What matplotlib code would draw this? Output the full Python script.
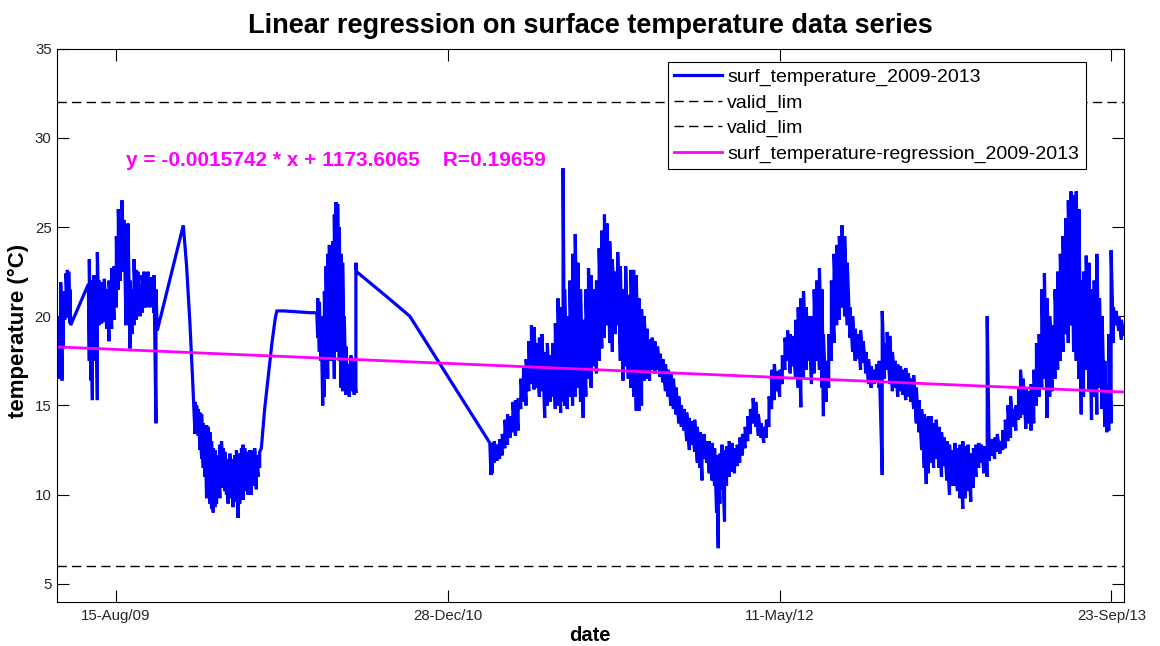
import numpy as np
import matplotlib
matplotlib.use("Agg")
import matplotlib.pyplot as plt
import matplotlib.dates as mdates

plt.rcParams["font.family"] = ["Liberation Sans", "DejaVu Sans"]

# surface temperature, per-sample min/max (degC); days counted from 2009-05-15
START = np.datetime64("2009-05-15")
day = [
    2.5, 4.6, 6.7, 8.7, 10.7, 12.7, 14.7, 16.7, 18.7, 20.7, 22.7, 23.7,
    50.3, 51.8, 54.3, 56.4, 58.9, 61.4, 63.9, 66.4, 70.4, 74.4, 77.9, 81.5,
    85.5, 89.0, 92.5, 95.5, 98.5, 101.0, 104.0, 107.1, 110.1, 113.1, 116.1,
    119.1, 122.1, 125.1, 128.1, 131.2, 134.2, 137.2, 140.2, 143.2, 146.2,
    149.2, 152.2, 154.2,
    193.4, 198.4, 203.4, 207.4,
    211.0, 213.5, 216.0, 218.5, 221.0, 223.5, 226.0, 228.5, 231.0, 233.5,
    236.0, 238.5, 241.0, 243.5, 246.0, 248.5, 251.0, 253.5, 256.0, 258.5,
    261.0, 263.5, 266.0, 268.5, 271.0, 273.5, 276.0, 278.5, 281.0, 283.5,
    286.0, 288.5, 291.0, 293.5, 296.0, 298.5, 301.0, 303.5, 306.0, 308.5,
    311.0, 316.0, 322.0, 327.0, 332.0, 334.5, 345.0, 365.0, 385.0, 394.5,
    396.0, 398.5, 401.0, 403.5, 406.0, 408.5, 411.0, 413.5, 416.0, 418.5,
    421.0, 423.5, 426.0, 428.5, 431.0, 433.5, 436.0, 438.5, 441.0, 443.5,
    446.0, 448.5, 451.0, 453.5,
    454.5, 500.0, 534.8, 655.3,
    657, 659, 662, 666, 670, 674, 678, 682, 686, 690, 694, 698, 702, 706,
    710, 714, 718, 722, 726, 730, 734, 738, 742, 746, 750, 754, 758, 762,
    765.7, 768, 772, 776, 780, 784, 788, 792, 796, 800, 804, 808, 812, 816,
    820, 824, 828, 832, 836, 840, 844, 848, 852, 856, 860, 864, 868, 872,
    876, 880, 884, 888, 892, 896, 900, 904, 908, 912, 916, 920, 924, 928,
    932, 936, 940, 944, 948, 952, 956, 960, 964, 968, 972, 975, 978, 982,
    986, 990, 994, 997, 999.5, 1002, 1005, 1009, 1012, 1016, 1020, 1024,
    1028, 1032, 1036, 1040, 1044, 1048, 1052, 1056, 1060, 1064, 1068, 1072,
    1076, 1080, 1084, 1088, 1092, 1096, 1100, 1104, 1108, 1112, 1116, 1120,
    1124, 1128, 1132, 1136, 1140, 1144, 1148, 1152, 1156, 1158, 1162, 1166,
    1170, 1174, 1178, 1182, 1186, 1190, 1194, 1198, 1202, 1206, 1210, 1214,
    1218, 1222, 1226, 1230, 1234, 1238, 1242, 1246.6, 1250, 1254, 1258, 1262,
    1266, 1270, 1274, 1278, 1282, 1286, 1290, 1294, 1298, 1302, 1306, 1310,
    1313, 1316, 1320, 1324, 1328, 1332, 1336, 1340, 1344, 1348, 1352, 1356,
    1360, 1364, 1368, 1372, 1376, 1380, 1384, 1388, 1392, 1396, 1400, 1404.8,
    1408, 1412, 1416, 1420, 1424, 1428, 1432, 1436, 1440, 1444, 1448, 1452,
    1455, 1459, 1463, 1467, 1471, 1475, 1479, 1483, 1487, 1491, 1495, 1499,
    1503, 1507, 1511, 1515, 1519, 1523, 1527, 1531, 1535, 1539, 1543, 1546.5,
    1550, 1554, 1558, 1562, 1566, 1570, 1574, 1578, 1582, 1585, 1588, 1591.5,
    1595, 1599, 1603, 1607, 1611,
]
t_lo = [
    17.4, 17.0, 16.5, 17.2, 16.4, 18.2, 19.8, 19.9, 20.5, 20.0, 19.6, 19.5,
    21.8, 17.5, 16.4, 15.3, 17.5, 19.0, 15.3, 19.5, 19.6, 19.7, 19.3, 18.6,
    19.3, 19.8, 20.5, 21.5, 22.0, 23.0, 22.5, 19.5, 19.8, 18.2, 19.0,
    19.5, 19.8, 20.2, 20.0, 20.2, 20.5, 20.5, 20.8, 20.5, 21.0,
    20.2, 14.0, 19.2,
    25.1, 22.8, 19.6, 16.5,
    13.4, 13.5, 13.3, 12.5, 12.0, 11.5, 11.0, 9.8, 10.5, 9.5,
    9.2, 9.0, 9.3, 9.5, 10.0, 9.8, 10.4, 10.6, 10.2, 10.0,
    9.5, 10.1, 9.8, 9.3, 9.6, 9.6, 8.7, 9.5, 10.0, 9.7,
    10.2, 10.5, 10.0, 10.8, 10.0, 10.5, 10.8, 10.3, 11.0, 11.5,
    12.6, 14.8, 16.8, 18.5, 19.9, 20.3, 20.3, 20.25, 20.2, 20.2,
    18.8, 18.0, 17.5, 15.0, 15.5, 17.0, 16.5, 18.0, 17.5, 18.0,
    16.5, 18.5, 18.0, 17.5, 16.0, 15.8, 16.5, 15.6, 15.7, 15.5,
    16.2, 15.8, 15.6, 15.7,
    22.5, 21.1, 20.0, 12.9,
    11.1, 11.2, 11.8, 11.9, 12.0, 12.2, 12.6, 12.8, 13.2, 13.5, 13.3, 13.6, 14.8, 15.2,
    15.0, 15.8, 16.2, 15.9, 16.0, 15.5, 15.8, 14.3, 15.0, 15.2, 15.5, 14.8, 15.0, 14.6,
    15.2, 15.0, 14.8, 15.5, 15.0, 15.5, 16.0, 15.2, 14.3, 15.5, 16.5, 16.0, 17.2, 16.8,
    17.5, 18.2, 18.8, 19.5, 18.5, 18.0, 19.0, 19.5, 17.5, 16.4, 17.2, 16.5, 16.0, 15.5,
    14.7, 14.7, 15.0, 16.4, 16.5, 16.4, 17.0, 16.8, 17.0, 16.6, 16.3, 15.8, 15.5, 15.0,
    14.8, 14.5, 14.0, 13.8, 13.6, 13.0, 12.5, 12.8, 12.4, 11.8, 11.5, 10.8, 12.0, 11.8,
    11.2, 10.8, 10.5, 9.0, 7.0, 9.5, 10.3, 8.5, 10.5, 11.0, 11.3, 11.2,
    11.6, 11.8, 12.2, 12.6, 13.0, 13.4, 14.0, 13.8, 13.3, 13.2, 12.9, 13.2,
    13.8, 14.8, 15.3, 15.8, 15.5, 16.2, 17.0, 17.5, 16.8, 17.2, 16.5, 16.0,
    14.9, 16.5, 17.0, 17.5, 16.2, 16.8, 17.5, 17.0, 16.0, 14.4, 15.2, 16.0,
    17.5, 18.5, 19.5, 19.8, 20.5, 20.0, 19.5, 18.8, 18.0, 17.5, 17.6, 17.0,
    17.4, 16.8, 16.2, 16.0, 16.2, 16.3, 16.0, 11.1, 16.5, 17.0, 16.2, 15.8,
    16.0, 15.5, 15.8, 15.6, 15.3, 15.5, 15.2, 14.8, 14.0, 13.5, 12.5, 11.5,
    10.6, 11.2, 11.8, 11.5, 12.0, 11.5, 11.0, 11.6, 10.8, 10.0, 10.5, 10.5,
    10.2, 9.8, 9.2, 9.8, 10.2, 9.6, 10.4, 11.0, 11.5, 11.8, 11.2, 11.0,
    11.9, 12.2, 12.0, 12.4, 12.3, 12.5, 12.6, 13.0, 13.2, 13.8, 13.6, 14.2,
    14.3, 14.5, 13.7, 14.0, 13.6, 14.0, 15.0, 15.5, 16.0, 16.5, 14.3, 15.5,
    15.8, 16.5, 17.0, 17.5, 18.0, 19.0, 18.5, 19.5, 18.0, 17.5, 16.5, 14.5,
    15.5, 17.0, 15.8, 14.2, 15.5, 14.5, 16.0, 14.8, 13.8, 13.5, 13.6, 14.0,
    18.5, 19.5, 19.2, 18.7, 18.9,
]
t_hi = [
    18.4, 19.9, 20.0, 21.9, 20.5, 21.4, 21.2, 22.4, 22.6, 22.5, 21.5, 19.5,
    21.8, 23.2, 22.0, 21.0, 22.3, 21.7, 23.6, 22.0, 21.9, 22.1, 21.5, 22.0,
    22.7, 22.8, 24.5, 26.0, 25.5, 26.5, 25.4, 24.3, 25.2, 22.0, 21.5,
    23.2, 22.6, 22.5, 21.8, 22.3, 22.5, 22.2, 22.5, 22.1, 22.2,
    22.3, 21.5, 19.2,
    25.1, 22.8, 19.6, 16.5,
    15.2, 15.0, 14.8, 14.6, 14.5, 14.0, 13.8, 13.9, 13.8, 13.5,
    13.0, 12.6, 12.5, 12.2, 12.0, 12.8, 13.0, 12.6, 12.4, 12.0,
    11.8, 12.3, 12.0, 11.6, 12.2, 12.5, 12.3, 12.1, 12.6, 12.8,
    12.6, 12.4, 12.0, 12.5, 12.5, 12.4, 12.6, 12.0, 12.2, 12.4,
    12.6, 14.8, 16.8, 18.5, 19.9, 20.3, 20.3, 20.25, 20.2, 20.2,
    21.0, 20.8, 20.0, 18.5, 21.4, 22.8, 23.5, 24.0, 23.8, 24.2,
    25.7, 26.4, 26.3, 25.0, 23.5, 23.0, 20.0, 18.3, 17.0, 17.3,
    17.8, 17.5, 16.8, 23.0,
    22.5, 21.1, 20.0, 12.9,
    12.8, 12.9, 13.0, 12.8, 13.1, 13.4, 14.2, 14.5, 14.4, 15.2, 15.3, 15.4, 16.5, 17.2,
    17.6, 18.6, 19.5, 19.4, 18.5, 18.8, 19.0, 18.0, 18.5, 17.8, 18.5, 19.6, 21.0, 20.5,
    28.3, 21.5, 20.0, 22.0, 23.5, 24.6, 23.0, 21.5, 19.8, 21.5, 22.7, 22.3, 21.5, 22.0,
    23.8, 24.8, 25.7, 25.2, 24.2, 23.2, 22.5, 23.6, 22.8, 21.5, 22.8, 21.2, 22.6, 22.6,
    22.3, 21.0, 20.4, 20.0, 19.3, 18.7, 18.8, 18.6, 18.3, 17.9, 17.6, 17.3, 17.0, 16.8,
    16.5, 16.0, 15.5, 15.0, 14.8, 14.6, 14.3, 14.1, 14.2, 13.8, 13.5, 13.2, 13.4, 13.0,
    13.0, 12.9, 12.6, 12.2, 12.0, 12.3, 12.8, 12.5, 12.7, 13.0, 12.9, 12.6,
    12.8, 13.2, 13.4, 13.8, 14.4, 14.8, 15.4, 15.2, 14.5, 14.0, 13.8, 14.2,
    15.5, 17.0, 17.3, 16.9, 17.0, 17.8, 18.8, 19.2, 19.0, 18.9, 19.8, 20.5,
    21.0, 21.4, 20.5, 20.0, 20.0, 21.5, 22.0, 22.7, 21.5, 19.0, 17.5, 19.0,
    22.0, 23.5, 24.0, 24.5, 25.1, 24.5, 23.0, 20.5, 20.0, 19.3, 19.0, 19.2,
    18.6, 18.0, 17.6, 17.2, 17.0, 17.3, 17.5, 20.3, 18.5, 19.1, 18.9, 18.0,
    17.5, 17.3, 17.2, 17.0, 17.1, 16.8, 16.5, 16.7, 16.0, 15.3, 14.8, 14.5,
    14.3, 14.4, 14.4, 14.0, 14.2, 13.8, 13.5, 13.2, 13.0, 12.8, 12.5, 12.9,
    12.6, 12.8, 13.0, 12.7, 12.8, 12.3, 12.6, 12.8, 12.9, 12.8, 12.7, 20.0,
    13.0, 13.1, 13.2, 13.4, 13.0, 13.6, 14.2, 15.0, 15.5, 14.8, 15.0, 16.0,
    17.0, 16.5, 16.0, 15.8, 16.2, 17.0, 18.5, 19.0, 21.5, 22.4, 21.0, 20.0,
    19.5, 21.5, 22.5, 23.5, 24.5, 25.5, 26.5, 27.0, 26.8, 27.0, 26.0, 22.0,
    22.5, 23.4, 23.0, 21.5, 22.0, 23.5, 21.0, 20.0, 17.5, 16.0, 19.0, 23.7,
    20.5, 20.3, 20.0, 19.8, 19.3,
]

# regression fit (x in MATLAB datenum) and validity limits
SLOPE = -0.0015742
INTERCEPT = 1173.6065
R_VALUE = 0.19659
VALID_MIN = 6
VALID_MAX = 32
MATLAB_EPOCH = 719529  # datenum of 1970-01-01

tick_dates = ["2009-08-15", "2010-12-28", "2012-05-11", "2013-09-23"]
tick_labels = ["15-Aug/09", "28-Dec/10", "11-May/12", "23-Sep/13"]
y_ticks = [5, 10, 15, 20, 25, 30, 35]

# each sample is drawn as a min -> max stroke, giving the dense band look
x_env = mdates.date2num(START) + np.asarray(day, dtype=float)
xs = np.repeat(x_env, 2)
ys = np.column_stack([t_lo, t_hi]).ravel()

x_ends = np.array([x_env[0], x_env[-1]])
reg_y = SLOPE * (x_ends + MATLAB_EPOCH) + INTERCEPT

fig = plt.figure(figsize=(11.6, 6.46), dpi=100)
ax = fig.add_axes([0.0488, 0.0686, 0.9202, 0.856])

ax.plot(xs, ys, color="#0000FF", linewidth=2.3, solid_joinstyle="miter",
        label="surf_temperature_2009-2013")
ax.plot(x_ends, [VALID_MAX, VALID_MAX], color="black", linewidth=1.0,
        dashes=(6.7, 3.8), label="valid_lim")
ax.plot(x_ends, [VALID_MIN, VALID_MIN], color="black", linewidth=1.0,
        dashes=(6.7, 3.8), label="valid_lim")
ax.plot(x_ends, reg_y, color="#FF00FF", linewidth=2.0,
        label="surf_temperature-regression_2009-2013")

ax.text(mdates.date2num(START) + 107, 28.4,
        f"y = {SLOPE:.7f} * x + {INTERCEPT:.4f}    R={R_VALUE:.5f}",
        color="#FF00FF", fontsize=15, fontweight="bold", va="baseline")

ax.set_xlim(x_ends[0], x_ends[-1])
ax.set_ylim(4, 35)
ax.set_xticks(mdates.date2num(np.array(tick_dates, dtype="datetime64[D]")))
ax.set_xticklabels(tick_labels)
ax.set_yticks(y_ticks)

ax.tick_params(direction="in", length=8.9, width=0.8, top=True, right=True,
               labelsize=10.8, colors="black", labelcolor="#262626")
ax.tick_params(axis="x", pad=5.0)
ax.tick_params(axis="y", pad=3.6)
for sp in ax.spines.values():
    sp.set_linewidth(0.8)

ax.set_title("Linear regression on surface temperature data series",
             fontsize=19.5, fontweight="bold", pad=11)
ax.set_xlabel("date", fontsize=14.5, fontweight="bold", labelpad=2.5)
ax.set_ylabel("temperature (\u00b0C)", fontsize=16, fontweight="bold")
ax.yaxis.set_label_coords(-0.0255, 0.4895)

leg = ax.legend(loc="upper left", bbox_to_anchor=(0.5728, 0.976), borderaxespad=0,
                fontsize=14, fancybox=False, framealpha=1, edgecolor="black",
                handlelength=2.42, handletextpad=0.3, labelspacing=0.4,
                borderpad=0.33)
leg.get_frame().set_linewidth(0.8)

fig.savefig("out.png", dpi=100)
